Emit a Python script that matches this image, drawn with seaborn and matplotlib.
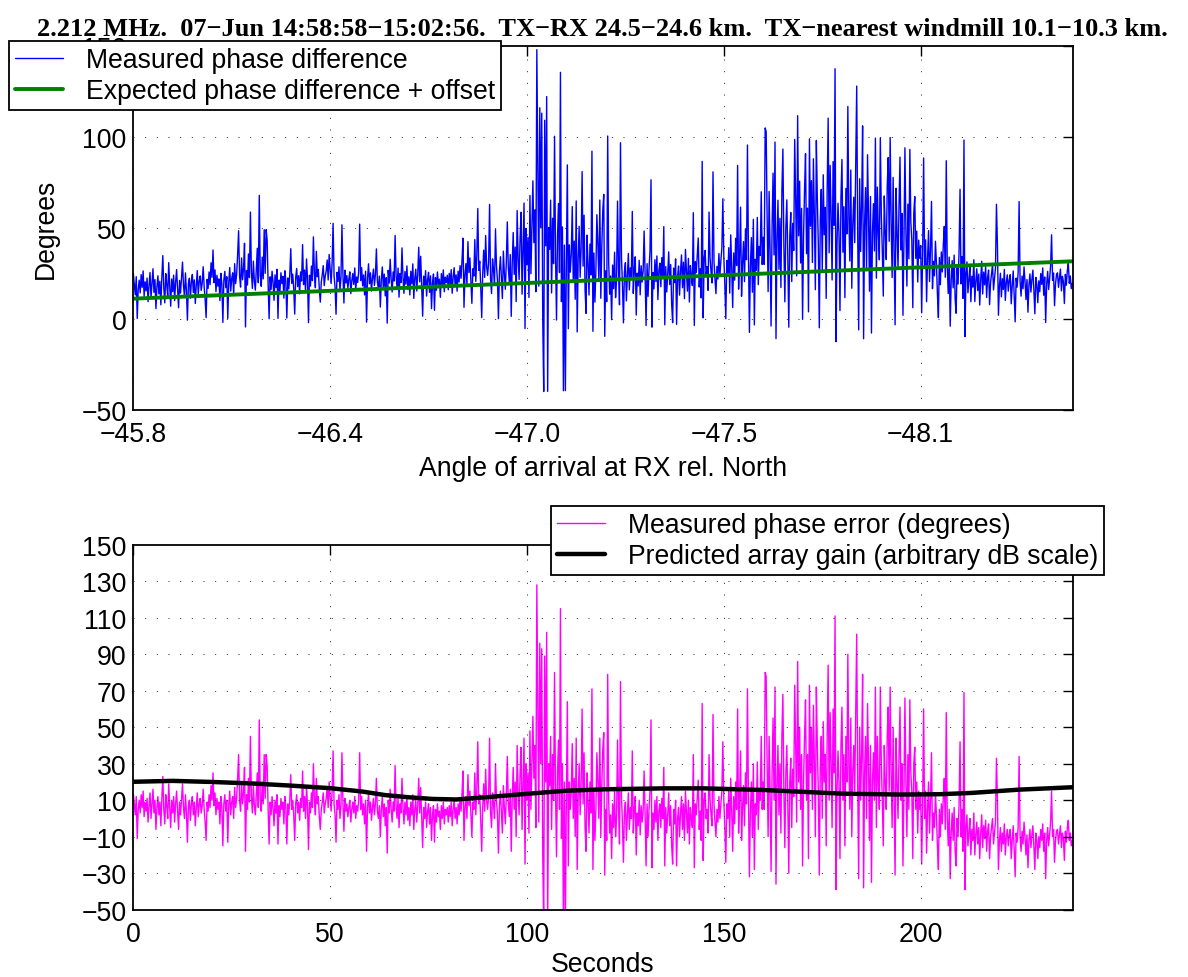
import numpy as np
import pandas as pd
import matplotlib
matplotlib.use("Agg")
import matplotlib.pyplot as plt
import seaborn as sns

# ---------------- data ----------------
sample_interval_s = 0.25

# measured phase error (degrees), 0.25 s samples, 0 .. 238.5 s
phase_error = [
    14, 8, 2, 12, -11, 5, 10, 3, 13, 6, 15, 1, 9, 4, 11, -2, 7, 14, 0, 8, 16, 3, 10, -6, 6, 12, 2, 9, -4, 11, 23, 5, -3, 13, 7, 0, 19, 6, -5, 10,
    3, 12, -2, 8, 15, 4, -6, 9, 2, 11, 19, 6, 0, 13, 3, -13, 7, 10, -1, 8, 12, 2, 9, -4, 6, 14, 1, 8, 11, 3, 7, 16, 5, -2, -12, 9, 4, 13, 6, 18,
    10, 25, 7, 14, 2, 11, 5, 9, -3, 12, 6, -15, 8, 13, 4, 10, -13, 7, 15, 2, 9, 12, 0, 17, 6, 11, 22, 35, 10, 4, 20, 8, 14, 28, -18, 13, 5, 22, 9, 45,
    12, 3, 18, 7, 2, 14, 25, 6, 54, 10, 4, 20, 8, 35, 11, 35, 29, 5, -14, 9, 2, 12, 6, -4, 10, 3, 13, -14, 7, 1, 11, 5, 9, -3, 12, 6, -14, 8, 2, 10,
    24, 5, 10, 2, -12, 8, 13, 3, 9, -1, 11, 6, 26, 4, 12, 0, 18, 7, -17, 9, 3, 14, 6, 30, 10, 2, 22, 8, 12, 1, -6, 5, 9, 14, 3, 8, 11, 17, 6, 20,
    12, 4, 15, 37, 8, 2, -13, 10, 5, 13, 0, 7, 36, 9, -7, 11, 4, 8, 1, 6, 10, -2, 5, 9, 3, 12, 0, 7, 4, 10, 36, 5, 12, 2, 8, -3, 10, -18, 6, 14,
    3, 9, -1, 6, 11, 2, 8, 22, 4, 0, 7, -10, 5, 12, 1, 8, -4, 6, -19, 10, 3, 16, 5, -2, 9, 4, 29, 7, 0, 11, -5, 8, 3, 22, 6, -3, 9, 2, 12, -1,
    6, -4, 9, 2, 13, -6, 5, 10, -2, 7, 22, 3, 17, 1, -16, 6, 0, 9, -5, 4, 8, -3, 6, -12, 2, 7, -13, 5, -2, 8, 1, 4, -6, 7, 0, 9, -3, 5, 2, 6,
    -2, 7, 1, 9, -4, 5, 10, 0, 6, -3, 8, 2, 11, 4, 14, 26, -12, 6, 12, 0, 24, 7, 15, 3, -10, 9, 5, 25, 2, 16, 42, 8, 13, -1, -18, 6, 19, 4, 27, 10,
    5, 12, 44, 3, -5, 14, 8, 0, 30, 10, 2, -19, 7, 15, 4, -8, 18, 6, -3, 12, 34, 9, 1, 16, -18, 11, 28, 5, 20, -10, 40, 14, 2, 25, 39, -6, 19, 44, -25, 30,
    10, 25, -8, 48, 5, 30, 56, 22, 40, -5, 128, 60, -2, 96, 30, 93, -20, -60, 89, 20, 102, -60, 30, 18, 45, -6, 35, 10, 80, 15, -21, 25, 43, 5, 115, -11, 30, -60, 20, -60,
    10, 64, -26, 20, 5, 15, 41, 0, 22, -10, 44, -28, 12, 30, 2, 18, 60, 8, 36, -5, -18, 25, 10, -8, 20, 3, 71, -28, 15, -12, 5, 36, 20, 0, 44, -10, 18, 38, 47, -31,
    5, -12, 79, 10, -8, 2, -22, 8, -5, 15, -10, 0, 43, 6, -14, 75, 12, -3, -24, 4, 9, -12, 2, 14, -6, 6, 0, 37, -8, 5, 12, -20, 3, -4, 10, -9, 7, -2, 4, 26,
    2, -26, 8, -10, 5, 15, 54, -27, 3, -6, 10, -2, 12, -12, 4, 8, -5, 11, 0, 28, -26, 6, -8, 2, 14, -4, 7, -15, -25, 5, -3, 10, -26, 0, 6, -10, 3, 12, -6, 8,
    -12, 15, 3, -8, 10, -14, 6, 0, -5, 35, -27, 8, 2, 12, 21, -6, 4, -12, 63, -23, 10, 14, 0, 5, -8, 35, 10, 2, -4, 57, 8, -2, -10, 5, -2, 12, 0, 8, 15, 42,
    10, -5, -24, 8, 0, 15, -10, 22, 4, -18, 12, -3, 20, 5, 60, -8, 10, 37, -12, 6, 18, -4, 25, 8, 71, 12, -32, 5, 20, -10, 30, -28, 8, 2, 31, -6, 15, 10, 45, 5,
    20, 5, 80, 78, 30, -10, 45, 12, -29, 25, 55, 10, 72, -36, 18, 40, 2, 30, -8, 45, 68, 15, -16, 25, 40, 8, -30, 20, 33, -5, 27, 12, 73, 40, -2, 86, 20, 50, 5, 35,
    -26, 20, 45, 65, 10, 35, -22, 73, 25, 50, 5, 62, 30, -10, 72, 40, 15, -31, 28, 45, 0, 53, 20, 35, -15, 45, 84, 10, 58, 30, -5, 60, 25, 111, -39, 15, 37, 20, -22, 40,
    61, 10, 35, -15, 45, 20, 90, 30, 5, 55, -10, 25, 40, 15, 60, 101, 20, -33, 50, 10, 35, 79, -38, 25, 45, 0, 63, 30, -12, 40, -35, 20, 36, 10, 72, -5, 45, 20, 5, 72,
    30, 10, -15, 40, 20, 5, 45, 61, 15, 72, 25, -5, 50, 10, -31, 44, 20, 0, 35, 61, 10, 30, -26, 15, 66, 20, -10, 35, 5, 65, 25, 15, -22, 30, 39, 5, 20, -8, 15, 5,
    12, -25, 8, 60, 0, 15, -19, 5, 20, -8, 10, 36, -12, 3, -5, 14, 2, -15, -28, 5, -10, 8, -3, 12, 22, -6, 58, 0, -15, 5, -33, -8, 3, -12, 6, -18, -26, 0, -10, 8,
    42, -10, 5, -18, 69, -39, -5, 2, -15, -8, 0, -20, -6, -12, 3, -20, -9, -2, -14, -5, -22, -8, 2, -16, -4, -11, -1, -18, -7, -3, -22, -10, -5, 0, -14, -8, -2, 33, 10, -28,
    -12, -5, -18, -8, -14, -3, -20, -10, -6, -15, -9, -6, -22, -12, -4, -17, -32, -8, -13, -5, 34, -10, -18, -7, -14, -2, -10, -20, -9, -27, -12, -6, -16, -9, -4, -15, -28, -8, -12, -22,
    -10, -16, -6, -12, -3, -18, -8, -33, -12, -5, -15, -9, -2, 15, -10, -6, -24, -12, -7, -6, -14, -9, -4, -16, -8, -11, -23, -7, -13, -5, -1, -12, -8, -15, -12,
]

# expected phase difference + offset (degrees) at selected times
expected_t = [0, 50, 100, 150, 200, 238.5]
expected_deg = [11.0, 15.3, 19.6, 23.9, 28.2, 31.5]

# predicted array gain (arbitrary dB scale)
gain_t = [0, 10, 20, 30, 40, 50, 58, 64, 70, 76, 82, 90, 100, 110, 120, 135,
          145, 160, 170, 180, 195, 205, 213, 225, 238.5]
gain_db = [20.1, 20.6, 20.0, 19.2, 18.0, 16.6, 14.8, 12.8, 11.6, 10.7, 10.4, 11.7,
           13.5, 15.2, 16.0, 16.5, 16.5, 15.6, 14.6, 13.6, 13.1, 13.3, 14.0, 15.8, 17.1]

second_ticks = [0, 50, 100, 150, 200]
angle_labels = ["\u221245.8", "\u221246.4", "\u221247.0", "\u221247.5", "\u221248.1"]

title_text = ("2.212 MHz.  07\u2212Jun 14:58:58\u221215:02:56.  TX\u2212RX 24.5\u221224.6 km.  "
              "TX\u2212nearest windmill 10.1\u221210.3 km.")

# ---------------- derived ----------------
t = np.arange(len(phase_error)) * sample_interval_s
err = np.array(phase_error, dtype=float)
expected_at_t = np.interp(t, expected_t, expected_deg)
measured = err + expected_at_t

# ---------------- style ----------------
sns.set_theme(style="white")
plt.rcParams["font.family"] = ["Liberation Sans", "DejaVu Sans"]
plt.rcParams["axes.unicode_minus"] = True
for k in ["text.color", "axes.labelcolor", "xtick.color", "ytick.color"]:
    plt.rcParams[k] = "black"

FS = 19.2
fig = plt.figure(figsize=(11.88, 9.78), dpi=100)
fig.patch.set_facecolor("white")

ax1 = fig.add_axes([0.1122, 0.5801, 0.7907, 0.3722])
ax2 = fig.add_axes([0.1122, 0.0688, 0.7907, 0.3732])

grid_kw = dict(color="#222222", linestyle=(0, (1, 11)), linewidth=0.7)


def style_axes(ax):
    ax.set_facecolor("white")
    for s in ax.spines.values():
        s.set_visible(True)
        s.set_color("black")
        s.set_linewidth(1.3)
    ax.tick_params(direction="in", length=7, width=1.0, colors="black",
                   top=True, right=True, labelsize=FS)
    ax.tick_params(axis="x", pad=8)
    ax.tick_params(axis="y", pad=5)
    ax.grid(True, **grid_kw)
    ax.set_axisbelow(False)


leg_kw = dict(loc="upper left", bbox_transform=fig.transFigure, borderaxespad=0,
              fontsize=FS, frameon=True, fancybox=False, framealpha=1,
              edgecolor="black", handlelength=1.8, handletextpad=0.85,
              labelspacing=0.2, borderpad=0.22)

# top panel
sns.lineplot(x=t, y=measured, ax=ax1, color="#0000ff", linewidth=1.0,
             estimator=None, sort=False, label="Measured phase difference", legend=False)
sns.lineplot(x=expected_t, y=expected_deg, ax=ax1, color="#008000", linewidth=2.8,
             estimator=None, sort=False, label="Expected phase difference + offset", legend=False)
ax1.set_xlim(0, 238.6)
ax1.set_ylim(-50, 150)
ax1.set_xticks(second_ticks)
ax1.set_xticklabels(angle_labels)
ax1.set_yticks([-50, 0, 50, 100, 150])
style_axes(ax1)
ax1.set_xlabel("Angle of arrival at RX rel. North", fontsize=FS, labelpad=6)
ax1.set_ylabel("Degrees", fontsize=FS, labelpad=16)

leg1 = ax1.legend(bbox_to_anchor=(9 / 1188, 1 - 42 / 978), **leg_kw)
leg1.get_frame().set_linewidth(1.3)
leg1.set_zorder(10)

# bottom panel
sns.lineplot(x=t, y=err, ax=ax2, color="#ff00ff", linewidth=1.0,
             estimator=None, sort=False, label="Measured phase error (degrees)", legend=False)
sns.lineplot(x=gain_t, y=gain_db, ax=ax2, color="black", linewidth=3.2,
             estimator=None, sort=False, label="Predicted array gain (arbitrary dB scale)", legend=False)
ax2.set_xlim(0, 238.6)
ax2.set_ylim(-50, 150)
ax2.set_xticks(second_ticks)
ax2.set_yticks(np.arange(-50, 151, 20))
style_axes(ax2)
ax2.set_xlabel("Seconds", fontsize=FS, labelpad=3)
ax2.set_ylabel("")

leg2 = ax2.legend(bbox_to_anchor=(551 / 1188, 1 - 507 / 978), **leg_kw)
leg2.get_frame().set_linewidth(1.3)
leg2.set_zorder(10)

fig.text(602 / 1188, 1 - 29 / 978, title_text, ha="center", va="center",
         fontsize=19, fontweight="bold", family=["Liberation Serif", "DejaVu Serif"])

fig.savefig("out.png", dpi=100, facecolor="white")
